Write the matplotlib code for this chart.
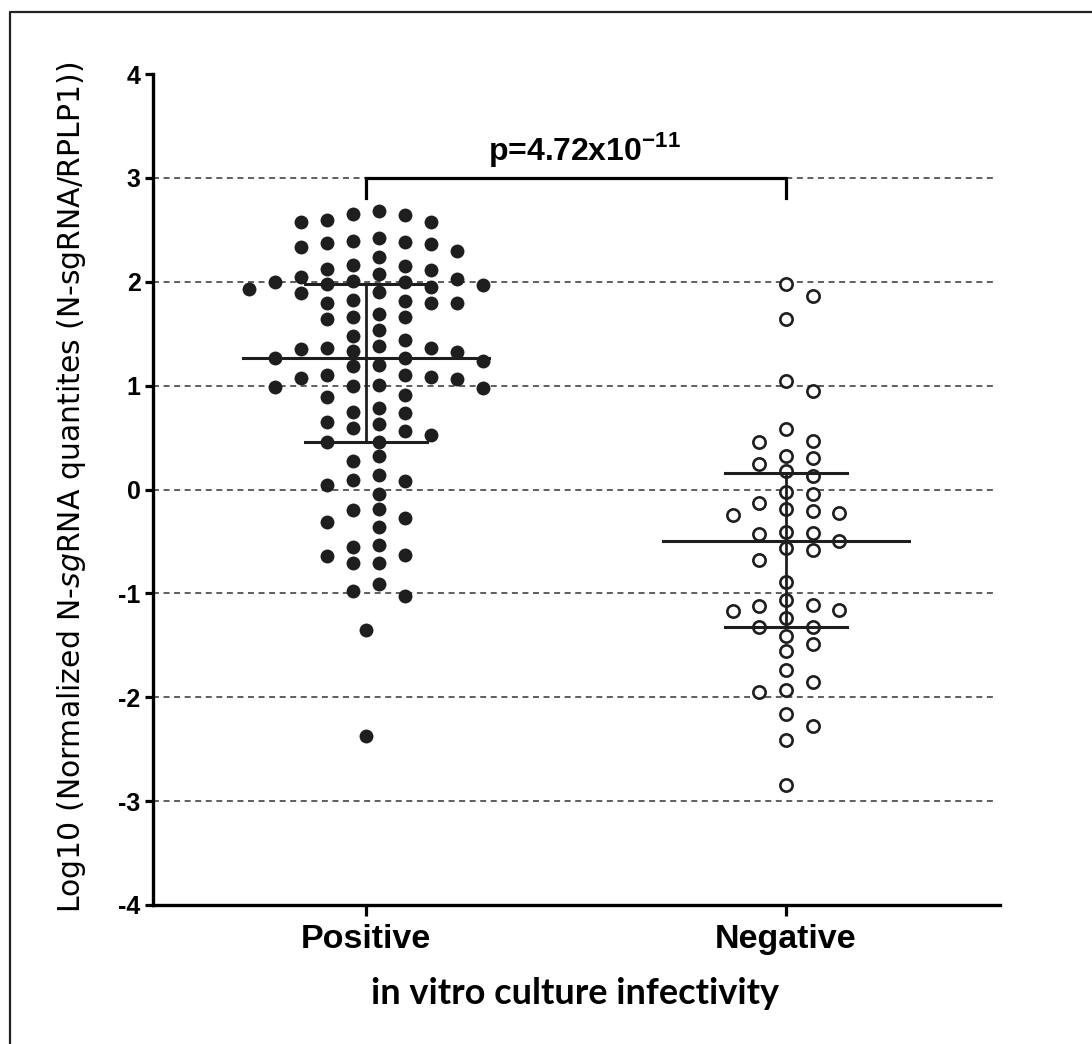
import numpy as np
import matplotlib
matplotlib.use("Agg")
import matplotlib.pyplot as plt
from matplotlib.lines import Line2D

# log10 values
groups = ["Positive", "Negative"]
positive = [2.00, 1.10,
            2.42, 2.15, 1.89, 1.36, 1.10,
            2.65, 2.38, 2.12, 1.97, 1.81, 1.48, 1.33, 1.19, 0.99,
            2.68, 2.37, 2.24, 2.11, 1.95, 1.80, 1.64, 1.44, 1.32, 1.08, 0.91,
            0.75, 0.56, 0.14, -0.19, -0.63, -0.91,
            2.58, 2.00, 1.69, 1.54, 1.38, 1.24, 1.07, 0.74, 0.63, 0.46, 0.27,
            0.04, -0.31, -0.53, -0.71, -1.03,
            -1.35, -2.37,
            2.58, 2.36, 2.07, 1.93, 1.80, 1.66, 1.35, 1.20, 1.06, 0.89, 0.65,
            0.52, 0.32, 0.09, -0.04, -0.20, -0.36, -0.55, -0.71, -0.98,
            2.59, 2.30, 2.16, 1.98, 1.82, 1.66, 1.27, 1.01, 0.78, 0.59, 0.46,
            0.08, -0.27, -0.64,
            2.64, 2.33, 2.03, 1.80, 1.27, 1.00,
            2.39, 2.05, 1.90, 1.36, 0.98,
            2.01]
negative = [1.98, 1.86, 1.64, 1.04, 0.95, 0.58, 0.47, 0.46, 0.32, 0.30,
            0.25, 0.18, 0.13, -0.02, -0.04, -0.13, -0.21, -0.23, -0.19, -0.25,
            -0.42, -0.50, -0.41, -0.56, -0.43, -0.58, -0.68, -0.89, -1.06,
            -1.12, -1.11, -1.24, -1.17, -1.32, -1.16, -1.32, -1.41, -1.55,
            -1.49, -1.74, -1.85, -1.93, -1.95, -2.16, -2.28, -2.41, -2.84]
y_ticks = [-4, -3, -2, -1, 0, 1, 2, 3, 4]
grid_levels = [-3, -2, -1, 0, 1, 2, 3]
p_label = "p=4.72x10$^{-11}$"
ylab = "Log10 (Normalized N-$\\mathit{sg}$RNA quantites (N-sgRNA/RPLP1))"
xlab = "in vitro culture infectivity"

plt.rcParams['mathtext.fontset'] = 'custom'
plt.rcParams['mathtext.rm'] = 'Liberation Sans:bold'
plt.rcParams['mathtext.it'] = 'DejaVu Sans:italic'
plt.rcParams['lines.scale_dashes'] = False

ink = '#1e1e1e'


def swarm_x(vals, center, step, gap, half_grid):
    # simple column beeswarm like the prism scatter layout
    vals = np.asarray(vals, dtype=float)
    xs = np.full(len(vals), float(center))
    if half_grid:
        slots = [s * 0.5 for k in range(12) for s in (2 * k + 1, -(2 * k + 1))]
    else:
        slots = [0] + [s for k in range(1, 12) for s in (k, -k)]
    cols = {}
    for i in np.argsort(-vals):
        v = vals[i]
        if np.sum(np.abs(vals - v) < gap) == 1:
            continue  # lone point stays in the middle
        for s in slots:
            if all(abs(v - u) >= gap for u in cols.get(s, [])):
                cols.setdefault(s, []).append(v)
                xs[i] = center + s * step
                break
    return xs


fig = plt.figure(figsize=(10.92, 10.44), dpi=100)
ax = fig.add_axes([153 / 1092, 1 - 905 / 1044, 847 / 1092, 831 / 1044])

pos_x = swarm_x(positive, 1, 0.062, 0.14, True)
neg_x = swarm_x(negative, 2, 0.0635, 0.125, False)

ax.hlines(grid_levels, 0.493, 2.495, colors='#333333', lw=1.1,
          linestyles=(0, (4.3, 3.3)), zorder=1)

ax.scatter(pos_x, positive, s=100, color=ink, linewidths=0, zorder=3)
ax.scatter(neg_x, negative, s=78, facecolors='white', edgecolors=ink,
           linewidths=1.9, zorder=3)

# median + interquartile range
for xc, vals in zip([1, 2], [positive, negative]):
    q1, med, q3 = np.percentile(vals, [25, 50, 75])
    ax.plot([xc - 0.293, xc + 0.293], [med, med], color=ink, lw=2.2, zorder=4)
    ax.plot([xc, xc], [q1, q3], color=ink, lw=2.0, zorder=4)
    for q in (q1, q3):
        ax.plot([xc - 0.145, xc + 0.145], [q, q], color=ink, lw=2.2, zorder=4)

# significance bracket
ax.plot([1, 1, 2, 2], [2.81, 3, 3, 2.81], color='black', lw=2.3, zorder=4,
        solid_joinstyle='miter')
ax.text(1.52, 3.27, p_label, ha='center', va='center', fontsize=23,
        fontweight='bold', family='Liberation Sans', color='black')

ax.set_xlim(0.493, 2.51)
ax.set_ylim(-4, 4)
ax.set_yticks(y_ticks)
ax.set_yticklabels([str(t) for t in y_ticks], fontsize=18, fontweight='bold',
                   family='Liberation Sans')
ax.set_xticks([1, 2])
ax.set_xticklabels(groups, fontsize=24.5, fontweight='bold',
                   family='Liberation Sans')
ax.tick_params(axis='y', length=6, width=2.3, pad=3, colors='black')
ax.tick_params(axis='x', length=8, width=2.3, pad=6, colors='black')
for side in ('top', 'right'):
    ax.spines[side].set_visible(False)
for side in ('left', 'bottom'):
    ax.spines[side].set_linewidth(2.4)
    ax.spines[side].set_color('black')

fig.text(575 / 1092, 1 - 993 / 1044, xlab, ha='center', va='center',
         fontsize=26, fontweight='bold', family='Lato')
fig.text(72 / 1092, 1 - 487 / 1044, ylab, ha='center', va='center',
         rotation=90, fontsize=21.5, family='DejaVu Sans')

# outer frame (only left and top edges fall inside the picture)
fig.add_artist(Line2D([10 / 1092, 10 / 1092, 1.0], [0.0, 1 - 12 / 1044, 1 - 12 / 1044],
                      transform=fig.transFigure, color='#222222', lw=1.6))

fig.savefig("out.png", dpi=100)
